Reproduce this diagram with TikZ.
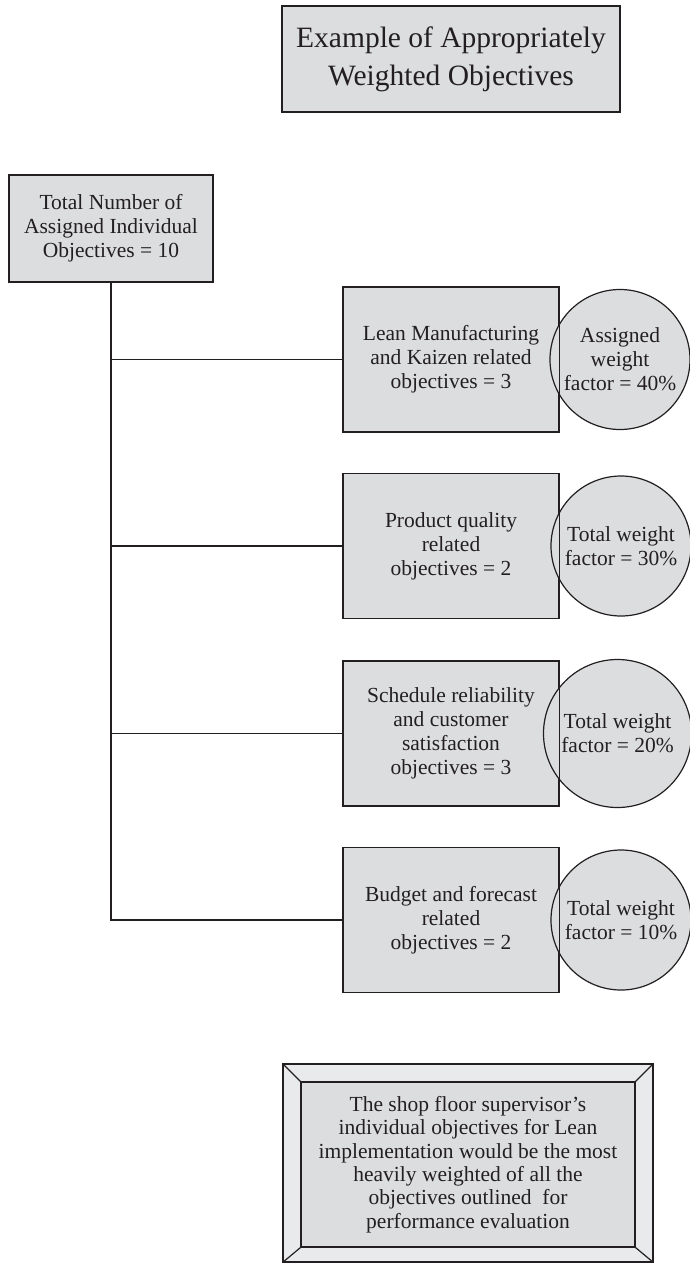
\documentclass[tikz,border=0pt]{standalone}
\usepackage{fontspec}
\setmainfont{Liberation Serif}
\usetikzlibrary{calc}

\definecolor{boxgray}{HTML}{DCDDDF}
\definecolor{framegray}{HTML}{E9EAEB}
\definecolor{ink}{HTML}{231F20}

\tikzset{
  box/.style={draw=ink, fill=boxgray, line width=1.2pt, text=ink, align=center,
    inner sep=0pt, font=\fontsize{21.5}{24}\selectfont},
  titlebox/.style={box, minimum width=338pt, minimum height=106pt,
    font=\fontsize{29.5}{38}\selectfont},
  goalbox/.style={box, minimum width=216pt, minimum height=145pt},
  weight/.style={box, circle, minimum size=140pt},
  framebox/.style={box, fill=framegray, minimum width=370pt, minimum height=198pt},
  link/.style={draw=ink, line width=1.2pt}
}

\begin{document}
\begin{tikzpicture}[x=1pt, y=-1pt]
  \useasboundingbox (0,0) rectangle (689,1263);
  % Title
  \node[titlebox] (title) at (451,59) {Example of Appropriately\\Weighted Objectives};
  % Root box
  \node[box, minimum width=204pt, minimum height=107pt] (total) at (111,228.5)
    {Total Number of\\Assigned Individual\\Objectives = 10};
  % Objective groups
  \node[goalbox] (lean)    at (451,359.5) {Lean Manufacturing\\and Kaizen related\\objectives = 3};
  \node[goalbox] (quality) at (451,546)   {Product quality\\related\\objectives = 2};
  \node[goalbox] (sched)   at (451,733.5) {Schedule reliability\\and customer\\satisfaction\\objectives = 3};
  \node[goalbox] (budget)  at (451,920)   {Budget and forecast\\related\\objectives = 2};
  % Weight factors
  \node[weight] (wlean)    at (620,359.5) {Assigned\\weight\\factor = 40\%};
  \node[weight] (wquality) at (621,546)   {Total weight\\factor = 30\%};
  \node[weight, minimum size=148pt] (wsched) at (617.5,733.5) {Total weight\\factor = 20\%};
  \node[weight] (wbudget)  at (621,920)   {Total weight\\factor = 10\%};
  % box edges stay visible inside the circles
  \foreach \g in {lean,quality,sched,budget}
    \draw[link] (\g.north east) -- (\g.south east);
  % Tree connectors
  \draw[link] (total.south) |- (budget.west);
  \foreach \g in {lean,quality,sched}
    \draw[link] (total.south |- \g.west) -- (\g.west);
  % Note with bevelled frame
  \node[framebox] (frame) at (468,1163) {};
  \node[box, minimum width=334pt, minimum height=165pt, font=\fontsize{21.5}{23.3}\selectfont] (note) at (468,1164.5)
    {The shop floor supervisor's\\individual objectives for Lean\\implementation would be the most\\heavily weighted of all the\\objectives outlined\ \ for\\performance evaluation};
  \foreach \c in {north west,north east,south west,south east}
    \draw[link] (frame.\c) -- (note.\c);
\end{tikzpicture}
\end{document}
